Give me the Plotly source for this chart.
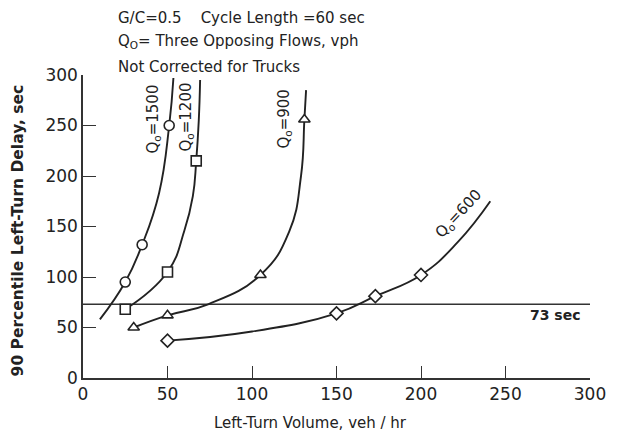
import plotly.graph_objects as go

# ---- data ----
q1500_x = [25, 35, 51]
q1500_y = [95, 132, 250]
q1500_curve_x = [10, 25, 35, 45, 51, 53.5]
q1500_curve_y = [58, 95, 132, 183, 250, 297]

q1200_x = [25, 50, 67]
q1200_y = [68, 105, 215]
q1200_curve_x = [25, 50, 60, 65, 67, 68.5, 69.3]
q1200_curve_y = [68, 105, 146, 180, 215, 255, 295]

q900_x = [30, 50, 105, 131]
q900_y = [50, 62, 102, 256]
q900_curve_x = [30, 50, 74, 105, 122, 129, 131, 132]
q900_curve_y = [50, 62, 73, 102, 145, 200, 256, 285]

q600_x = [50, 150, 173, 200]
q600_y = [37, 64, 81, 102]
q600_curve_x = [50, 100, 150, 173, 200, 222, 241]
q600_curve_y = [37, 46, 64, 81, 102, 135, 175]

threshold = 73
x_ticks = [0, 50, 100, 150, 200, 250, 300]
y_ticks = [0, 50, 100, 150, 200, 250, 300]

INK = "#222222"
FONT = "DejaVu Sans"

fig = go.Figure()

curves = [
    (q1500_curve_x, q1500_curve_y, q1500_x, q1500_y, "circle"),
    (q1200_curve_x, q1200_curve_y, q1200_x, q1200_y, "square"),
    (q900_curve_x, q900_curve_y, q900_x, q900_y, "triangle-up"),
    (q600_curve_x, q600_curve_y, q600_x, q600_y, "diamond"),
]

# threshold line
fig.add_trace(go.Scatter(x=[0, 300], y=[threshold, threshold], mode="lines",
                         line=dict(color="#333333", width=1.3), showlegend=False,
                         hoverinfo="skip"))

for cx, cy, mx, my, sym in curves:
    fig.add_trace(go.Scatter(x=cx, y=cy, mode="lines",
                             line=dict(color=INK, width=1.9, shape="spline", smoothing=1.3),
                             showlegend=False, hoverinfo="skip"))
    fig.add_trace(go.Scatter(x=mx, y=my, mode="markers",
                             marker=dict(symbol=sym, size=10, color="white",
                                         line=dict(width=1.6, color=INK)),
                             showlegend=False))

fig.update_xaxes(range=[0, 300], tickvals=x_ticks, ticks="inside", ticklen=12,
                 tickwidth=1.3, tickcolor="#333", showline=True, linecolor="#333",
                 linewidth=1.5, showgrid=False, zeroline=False,
                 tickfont=dict(family=FONT, size=17, color=INK))
fig.update_yaxes(range=[0, 300], tickvals=y_ticks, ticks="inside", ticklen=13,
                 tickwidth=1.3, tickcolor="#333", showline=True, linecolor="#333",
                 linewidth=1.5, showgrid=False, zeroline=False,
                 tickfont=dict(family=FONT, size=17, color=INK))

W, H = 618, 436
l, r, t, b = 83, 25, 75, 58
pw, ph = W - l - r, H - t - b

ann = []
def a(text, x, y, size=15, angle=0):
    ann.append(dict(text=text, x=x, y=y, xref="x", yref="y", showarrow=False,
                    textangle=angle, xanchor="center", yanchor="middle",
                    font=dict(family=FONT, size=size, color=INK)))

def ap(text, px, py, size=15, angle=0, xanchor="center"):
    ann.append(dict(text=text, x=(px - l) / pw, y=1 - (py - t) / ph,
                    xref="paper", yref="paper", showarrow=False,
                    textangle=angle, xanchor=xanchor, yanchor="middle",
                    font=dict(family=FONT, size=size, color=INK)))

ap("G/C=0.5    Cycle Length =60 sec", 116, 18, xanchor="left")
ap("Q<sub>O</sub>= Three Opposing Flows, vph", 116, 42, xanchor="left")
ap("Not Corrected for Trucks", 116, 67, xanchor="left")

a("Q<sub>o</sub>=1500", 41.5, 256, angle=-90)
a("Q<sub>o</sub>=1200", 61, 258, angle=-90)
a("Q<sub>o</sub>=900", 119, 256, angle=-90)
a("Q<sub>o</sub>=600", 222, 162, angle=-47)
a("<b>73 sec</b>", 279, 62, size=14)

ap("Left-Turn Volume, veh / hr", 312, 423, size=15)
ap("<b>90 Percentile Left-Turn Delay, sec</b>", 18, 230, size=15.5, angle=-90)

fig.update_layout(
    width=W, height=H,
    margin=dict(l=l, r=r, t=t, b=b),
    paper_bgcolor="white", plot_bgcolor="white",
    showlegend=False,
    annotations=ann,
)

fig.write_html("out.html")
